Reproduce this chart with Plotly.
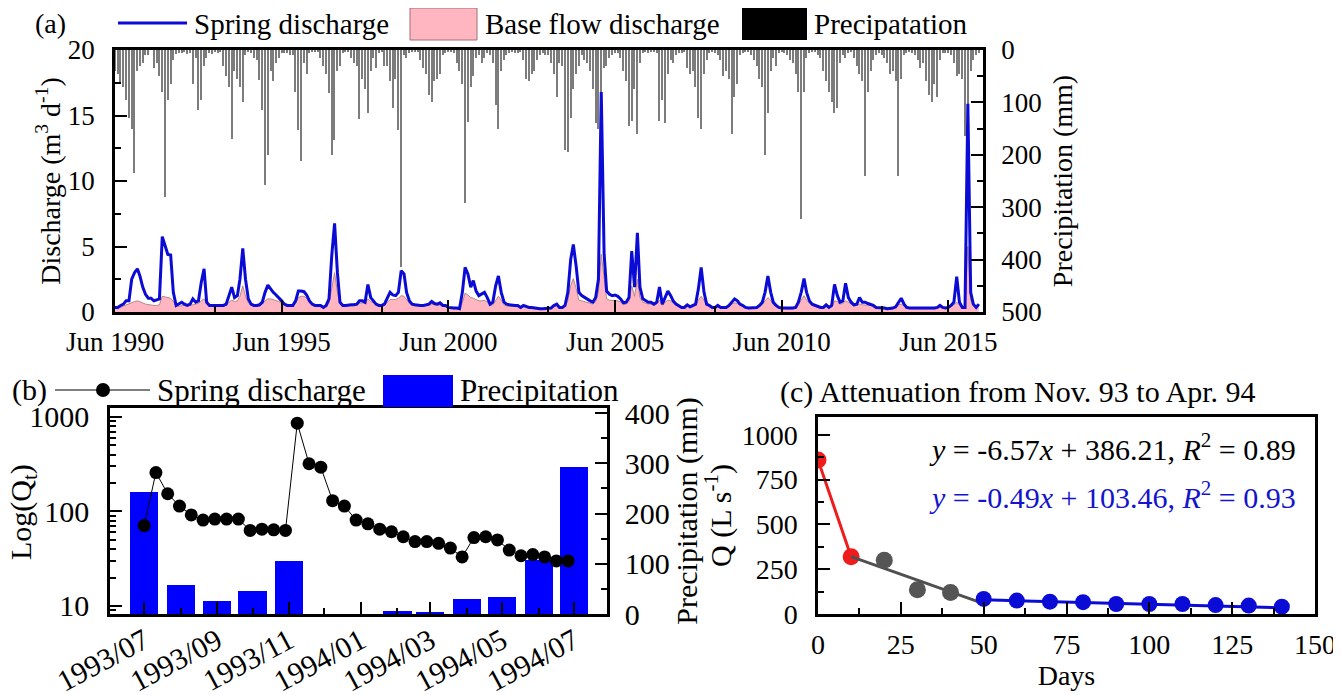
import plotly.graph_objects as go
import pandas as pd

# The page shows the figure with the browser's 8 px body margin, so the figure is
# 8 px smaller than the window and all layout positions are offset by that margin.
PAGE_W, PAGE_H, OFF = 1341, 695, 8
W, H = PAGE_W - OFF, PAGE_H - OFF
FONT = "Liberation Serif, Times New Roman, serif"


def px(x):
    return (x - OFF) / W


def py(y):
    return 1 - (y - OFF) / H


# ---------------- Panel (a): monthly series, Jun 1990 -> May 2016 ----------------
start_a = "1990-06-01"
discharge_a = [
    0.35, 0.35, 0.5, 0.6, 0.85, 0.85, 2.5, 3.0, 3.3, 2.75, 1.9, 1.35,
    1.05, 1.05, 0.85, 0.95, 1.0, 5.75, 5.0, 4.4, 4.35, 1.5, 0.5, 0.6,
    0.75, 0.6, 0.5, 0.6, 1.0, 0.75, 0.85, 2.25, 3.3, 0.75, 0.5, 0.5,
    0.5, 0.5, 0.55, 0.5, 0.6, 1.25, 1.9, 1.1, 1.25, 2.5, 4.85, 2.5,
    1.0, 0.6, 0.5, 0.5, 0.55, 0.75, 1.5, 2.05, 1.75, 1.5, 1.3, 1.1,
    0.85, 0.6, 0.5, 0.5, 0.5, 0.85, 1.6, 1.6, 1.55, 1.3, 0.85, 0.6,
    0.5, 0.5, 0.5, 0.35, 0.5, 1.0, 4.3, 6.77, 3.0, 0.75, 0.5, 0.5,
    0.55, 0.55, 0.55, 0.6, 0.85, 0.85, 0.75, 2.1, 1.1, 0.85, 0.6, 0.5,
    0.5, 0.6, 1.1, 1.5, 1.3, 1.25, 1.5, 3.15, 2.9, 1.5, 0.85, 0.6,
    0.55, 0.5, 0.5, 0.5, 0.55, 0.6, 0.8, 0.65, 0.6, 0.7, 0.5, 0.5,
    0.35, 0.3, 0.3, 0.3, 0.25, 1.5, 3.4, 2.9, 1.9, 2.4, 1.6, 1.25,
    1.35, 1.5, 1.1, 0.6, 0.75, 2.0, 2.75, 1.5, 0.75, 0.6, 0.55, 0.5,
    0.5, 0.5, 0.35, 0.5, 0.4, 0.35, 0.35, 0.3, 0.3, 0.25, 0.25, 0.25,
    0.25, 0.3, 0.5, 0.6, 0.35, 0.35, 0.5, 1.5, 4.0, 5.15, 3.5, 1.5,
    1.25, 1.1, 1.0, 0.85, 0.75, 1.1, 2.5, 16.8, 4.5, 1.6, 1.35, 1.25,
    1.3, 1.2, 1.0, 0.7, 0.75, 1.1, 4.65, 1.9, 6.05, 1.9, 1.0, 0.85,
    0.75, 0.75, 0.6, 0.75, 1.9, 0.6, 1.1, 1.6, 1.25, 0.85, 0.6, 0.5,
    0.35, 0.35, 0.55, 0.4, 0.5, 0.6, 1.75, 3.4, 1.5, 0.6, 0.5, 0.35,
    0.35, 0.5, 0.35, 0.35, 0.35, 0.5, 0.75, 1.0, 0.85, 0.6, 0.5, 0.35,
    0.3, 0.3, 0.3, 0.35, 0.5, 0.75, 1.5, 2.75, 1.5, 0.75, 0.5, 0.35,
    0.3, 0.3, 0.25, 0.25, 0.3, 0.35, 0.75, 1.5, 2.55, 1.5, 0.85, 0.6,
    0.5, 0.4, 0.35, 0.35, 0.55, 0.35, 0.5, 2.1, 1.25, 0.75, 0.85, 2.2,
    1.1, 0.75, 0.55, 0.6, 1.1, 0.75, 0.75, 0.65, 0.6, 0.5, 0.35, 0.35,
    0.3, 0.3, 0.25, 0.25, 0.3, 0.4, 0.75, 1.05, 0.6, 0.35, 0.3, 0.3,
    0.25, 0.25, 0.25, 0.25, 0.25, 0.25, 0.25, 0.3, 0.35, 0.5, 0.35, 0.3,
    0.35, 0.5, 0.75, 2.7, 0.75, 0.35, 0.35, 15.9, 1.5, 0.6, 0.35, 0.6,
]
baseflow_a = [
    0.3, 0.3, 0.35, 0.45, 0.55, 0.6, 0.75, 0.8, 0.85, 0.8, 0.7, 0.6,
    0.55, 0.5, 0.5, 0.5, 0.55, 1.2, 1.15, 1.1, 1.05, 0.8, 0.45, 0.45,
    0.5, 0.5, 0.45, 0.5, 0.6, 0.6, 0.65, 0.85, 1.0, 0.6, 0.45, 0.45,
    0.45, 0.45, 0.45, 0.45, 0.5, 0.75, 0.9, 0.8, 0.85, 1.2, 2.0, 1.2,
    0.7, 0.5, 0.45, 0.45, 0.45, 0.6, 0.85, 1.0, 1.0, 0.95, 0.9, 0.8,
    0.65, 0.5, 0.45, 0.45, 0.45, 0.65, 1.1, 1.2, 1.2, 1.05, 0.7, 0.5,
    0.45, 0.45, 0.45, 0.3, 0.45, 0.7, 1.8, 3.0, 1.5, 0.6, 0.45, 0.45,
    0.45, 0.45, 0.45, 0.5, 0.65, 0.7, 0.65, 1.0, 0.8, 0.7, 0.5, 0.45,
    0.45, 0.5, 0.75, 0.95, 0.95, 0.95, 1.05, 1.25, 1.2, 0.9, 0.65, 0.5,
    0.45, 0.45, 0.45, 0.45, 0.45, 0.5, 0.6, 0.55, 0.5, 0.55, 0.45, 0.45,
    0.3, 0.25, 0.25, 0.25, 0.2, 0.7, 1.45, 1.3, 1.1, 1.05, 0.95, 0.85,
    0.85, 0.9, 0.75, 0.5, 0.55, 0.9, 1.2, 0.9, 0.55, 0.45, 0.45, 0.4,
    0.4, 0.4, 0.3, 0.4, 0.35, 0.3, 0.3, 0.25, 0.25, 0.2, 0.2, 0.2,
    0.2, 0.25, 0.4, 0.45, 0.3, 0.3, 0.4, 0.9, 2.0, 2.55, 1.8, 0.9,
    0.85, 0.8, 0.75, 0.7, 0.6, 0.8, 1.5, 4.4, 2.5, 1.0, 0.9, 0.9,
    0.9, 0.85, 0.75, 0.55, 0.6, 0.8, 2.0, 1.2, 2.5, 1.1, 0.75, 0.65,
    0.6, 0.6, 0.5, 0.6, 0.9, 0.5, 0.75, 0.9, 0.85, 0.65, 0.5, 0.4,
    0.3, 0.3, 0.45, 0.35, 0.4, 0.5, 0.9, 1.2, 0.9, 0.5, 0.4, 0.3,
    0.3, 0.4, 0.3, 0.3, 0.3, 0.4, 0.6, 0.7, 0.65, 0.5, 0.4, 0.3,
    0.25, 0.25, 0.25, 0.3, 0.4, 0.55, 0.85, 1.1, 0.9, 0.55, 0.4, 0.3,
    0.25, 0.25, 0.2, 0.2, 0.25, 0.3, 0.55, 0.9, 1.25, 0.9, 0.65, 0.5,
    0.4, 0.35, 0.3, 0.3, 0.45, 0.3, 0.4, 0.85, 0.8, 0.6, 0.65, 0.85,
    0.75, 0.6, 0.45, 0.5, 0.6, 0.55, 0.55, 0.5, 0.5, 0.4, 0.3, 0.3,
    0.25, 0.25, 0.2, 0.2, 0.25, 0.3, 0.55, 0.6, 0.45, 0.3, 0.25, 0.25,
    0.2, 0.2, 0.2, 0.2, 0.2, 0.2, 0.2, 0.25, 0.3, 0.4, 0.3, 0.25,
    0.3, 0.4, 0.55, 0.75, 0.5, 0.3, 0.3, 5.0, 0.9, 0.45, 0.3, 0.45,
]
precip_a = [
    40, 45, 65, 70, 95, 130, 150, 235, 40, 30, 25, 10,
    10, 0, 35, 25, 50, 80, 280, 95, 65, 20, 8, 5,
    5, 3, 8, 5, 65, 15, 115, 96, 30, 15, 5, 8,
    3, 5, 2, 30, 50, 70, 170, 40, 55, 70, 100, 10,
    3, 5, 15, 20, 58, 115, 257, 201, 40, 60, 25, 15,
    5, 5, 5, 10, 10, 80, 153, 212, 25, 45, 5, 3,
    3, 3, 15, 30, 45, 83, 201, 171, 40, 30, 5, 3,
    3, 15, 25, 30, 131, 55, 75, 120, 40, 15, 35, 5,
    3, 30, 30, 60, 110, 55, 153, 415, 10, 15, 5, 3,
    3, 3, 20, 35, 45, 85, 100, 60, 55, 45, 10, 5,
    3, 2, 5, 25, 40, 65, 292, 137, 70, 50, 15, 10,
    25, 15, 5, 10, 25, 105, 150, 40, 20, 10, 5, 3,
    5, 5, 3, 20, 55, 60, 45, 40, 20, 10, 5, 10,
    10, 25, 45, 90, 25, 30, 190, 195, 130, 75, 45, 30,
    10, 20, 25, 40, 75, 140, 150, 90, 35, 30, 15, 10,
    5, 5, 15, 40, 60, 145, 135, 75, 160, 25, 5, 3,
    5, 3, 3, 5, 135, 95, 140, 45, 20, 25, 10, 5,
    5, 3, 35, 45, 40, 70, 130, 150, 45, 20, 5, 3,
    5, 10, 20, 50, 40, 55, 160, 90, 65, 10, 5, 3,
    3, 10, 20, 30, 55, 70, 200, 120, 40, 15, 30, 5,
    3, 5, 10, 20, 25, 45, 80, 322, 80, 15, 5, 3,
    3, 10, 15, 40, 60, 80, 100, 120, 110, 25, 10, 15,
    5, 3, 15, 30, 45, 60, 240, 80, 40, 20, 10, 5,
    10, 15, 25, 45, 40, 60, 240, 55, 10, 5, 3, 5,
    10, 20, 35, 25, 60, 85, 100, 65, 90, 20, 5, 5,
    5, 10, 25, 50, 45, 55, 165, 155, 40, 20, 10, 5,
]
dates_a = pd.date_range(start_a, periods=len(discharge_a), freq="MS")

# ---------------- Panel (b): Jul 1993 -> Jul 1994 ----------------
months_b = ["1993/07", "1993/08", "1993/09", "1993/10", "1993/11", "1993/12", "1994/01",
            "1994/02", "1994/03", "1994/04", "1994/05", "1994/06", "1994/07"]
precip_b = [243, 57, 25, 46, 105, 0, 0, 6, 4, 29, 34, 108, 292]
discharge_b = [71, 258, 154, 114, 92, 81, 83, 83, 83, 63, 65, 64, 63,
               860, 320, 294, 130, 114, 81, 74, 65, 61, 54, 48, 48, 46, 41, 33,
               53, 54, 50, 39, 34, 35, 33, 30, 30]
month_dates_b = pd.to_datetime([m.replace("/", "-") + "-01" for m in months_b])
dates_b = pd.date_range("1993-07-01", periods=len(discharge_b), freq="10D")

# ---------------- Panel (c): attenuation Nov 93 -> Apr 94 ----------------
days_c = [0, 10, 20, 30, 40, 50, 60, 70, 80, 90, 100, 110, 120, 130, 140]
q_c = [860, 320, 300, 135, 120, 84, 75, 69, 66, 56, 56, 56, 50, 47, 41]
fit1 = dict(slope=-6.57, intercept=386.21, x=[10, 50])
fit2 = dict(slope=-0.49, intercept=103.46, x=[50, 140])

BLUE = "#0b0bd6"
PINK = "#ffb6c1"

fig = go.Figure()

# (a) precipitation bars hanging from top (base axis y, right side, reversed)
fig.add_trace(go.Bar(x=dates_a, y=precip_a, xaxis="x", yaxis="y",
                     marker=dict(color="#7c7c7c", line=dict(width=0)),
                     width=14 * 24 * 3600 * 1000, name="Precipatation"))
# (a) base flow and discharge (overlay axis y2, left side)
fig.add_trace(go.Scatter(x=dates_a, y=baseflow_a, xaxis="x", yaxis="y2", mode="lines",
                         fill="tozeroy", fillcolor=PINK,
                         line=dict(color="#b88686", width=1), name="Base flow discharge"))
fig.add_trace(go.Scatter(x=dates_a, y=discharge_a, xaxis="x", yaxis="y2", mode="lines",
                         line=dict(color=BLUE, width=3), name="Spring discharge"))

# (b) precipitation bars + discharge points
fig.add_trace(go.Bar(x=month_dates_b, y=precip_b, xaxis="x2", yaxis="y3",
                     marker=dict(color="#0000ff", line=dict(width=0)),
                     width=24 * 24 * 3600 * 1000, name="Precipitation"))
fig.add_trace(go.Scatter(x=dates_b, y=discharge_b, xaxis="x2", yaxis="y4", mode="lines+markers",
                         line=dict(color="black", width=1),
                         marker=dict(color="black", size=13), name="Spring discharge"))

# (c) attenuation
fig.add_trace(go.Scatter(x=days_c[0:2], y=q_c[0:2], xaxis="x3", yaxis="y5", mode="lines+markers",
                         line=dict(color="#ee1c1c", width=3), marker=dict(color="#ee1c1c", size=17)))
fig.add_trace(go.Scatter(x=fit1["x"], y=[fit1["slope"] * v + fit1["intercept"] for v in fit1["x"]],
                         xaxis="x3", yaxis="y5", mode="lines",
                         line=dict(color="#505050", width=3)))
fig.add_trace(go.Scatter(x=days_c[2:5], y=q_c[2:5], xaxis="x3", yaxis="y5", mode="markers",
                         marker=dict(color="#555555", size=17)))
fig.add_trace(go.Scatter(x=fit2["x"], y=[fit2["slope"] * v + fit2["intercept"] for v in fit2["x"]],
                         xaxis="x3", yaxis="y5", mode="lines",
                         line=dict(color=BLUE, width=3)))
fig.add_trace(go.Scatter(x=days_c[5:], y=q_c[5:], xaxis="x3", yaxis="y5", mode="markers",
                         marker=dict(color=BLUE, size=16)))

axis_common = dict(showline=True, linecolor="black", linewidth=2.5, ticks="inside",
                   ticklen=12, tickwidth=2, tickcolor="black", showgrid=False, zeroline=False,
                   color="black", automargin=False)


def minor(dtick, tick0=None):
    d = dict(ticks="inside", ticklen=6, tickwidth=2, tickcolor="black", dtick=dtick, showgrid=False)
    if tick0 is not None:
        d["tick0"] = tick0
    return d


layout = dict(
    width=W, height=H, margin=dict(l=0, r=0, t=0, b=0, autoexpand=False),
    paper_bgcolor="white", plot_bgcolor="white", showlegend=False, bargap=0,
    font=dict(family=FONT, color="black"),
    # ---- panel (a)
    xaxis=dict(axis_common, domain=[px(115), px(983)], anchor="y", type="date",
               range=["1990-06-01", "2016-06-15"], tick0="1990-06-01", dtick="M60",
               tickformat="%b %Y", mirror=True, tickfont=dict(size=27), ticklabelstandoff=4,
               minor=minor("M60", "1993-06-01")),
    yaxis=dict(axis_common, domain=[py(312), py(50)], anchor="x", side="right",
               range=[500, 0], dtick=100, tickfont=dict(size=27), ticklabelstandoff=10,
               minor=minor(50),
               title=dict(text="Precipitation (mm)", font=dict(size=28), standoff=12)),
    yaxis2=dict(axis_common, overlaying="y", anchor="x", side="left", range=[0, 20], dtick=5,
                tickfont=dict(size=27), ticklabelstandoff=12, minor=minor(2.5),
                title=dict(text="Discharge (m<sup>3</sup> d<sup>-1</sup>)", font=dict(size=28), standoff=0)),
    # ---- panel (b)
    xaxis2=dict(axis_common, domain=[px(110), px(607)], anchor="y3", type="date",
                range=["1993-06-02", "1994-07-29"], tick0="1993-07-01", dtick="M2",
                tickformat="%Y/%m", tickangle=-28, mirror=True, tickfont=dict(size=30),
                ticklabelstandoff=-5, minor=minor("M1")),
    yaxis3=dict(axis_common, domain=[py(614), py(408)], anchor="x2", side="right",
                range=[0, 410], dtick=100, tickfont=dict(size=30), ticklabelstandoff=9,
                minor=minor(50),
                title=dict(text="Precipitation (mm)", font=dict(size=30), standoff=0)),
    yaxis4=dict(axis_common, overlaying="y3", anchor="x2", side="left", type="log",
                range=[0.915, 3.095], dtick=1, exponentformat="none",
                tickfont=dict(size=30), ticklabelstandoff=12,
                minor=dict(ticks="inside", ticklen=6, tickwidth=1.5, tickcolor="black", showgrid=False)),
    # ---- panel (c)
    xaxis3=dict(axis_common, domain=[px(818), px(1315)], anchor="y5", range=[0, 150], dtick=25,
                mirror=True, tickfont=dict(size=28), ticklabelstandoff=4, minor=minor(12.5),
                title=dict(text="Days", font=dict(size=28), standoff=2)),
    yaxis5=dict(axis_common, domain=[py(614), py(417)], anchor="x3", range=[0, 1100], dtick=250,
                mirror=True, tickfont=dict(size=28), ticklabelstandoff=12, minor=minor(125),
                title=dict(text="Q (L s<sup>-1</sup>)", font=dict(size=30), standoff=2)),
)

annotations = []


def text(x, y, s, size, color="black", xanchor="left", angle=0):
    annotations.append(dict(x=px(x), y=py(y), xref="paper", yref="paper", text=s, showarrow=False,
                            xanchor=xanchor, yanchor="middle", textangle=angle,
                            font=dict(size=size, color=color, family=FONT)))


shapes = []


def rect(x0, y0, x1, y1, fill, line="rgba(0,0,0,0)", lw=0):
    shapes.append(dict(type="rect", xref="paper", yref="paper", x0=px(x0), x1=px(x1),
                       y0=py(y1), y1=py(y0), fillcolor=fill, line=dict(color=line, width=lw)))


def hline(x0, x1, y, color, width):
    shapes.append(dict(type="line", xref="paper", yref="paper", x0=px(x0), x1=px(x1),
                       y0=py(y), y1=py(y), line=dict(color=color, width=width)))


# legend (a)
text(33, 24, "(a)", 28)
hline(118, 187, 23, BLUE, 3)
text(192, 24, "Spring discharge", 29)
rect(410, 8, 477, 40, PINK, "#a07070", 1)
text(483, 24, "Base flow discharge", 29)
rect(742, 8, 807, 40, "black")
text(812, 24, "Precipatation", 29)

# legend (b)
text(10, 390, "(b)", 30)
hline(55, 150, 390, "black", 1)
shapes.append(dict(type="circle", xref="paper", yref="paper", xsizemode="pixel", ysizemode="pixel",
                   xanchor=px(103), yanchor=py(390), x0=-7, x1=7, y0=-7, y1=7,
                   fillcolor="black", line=dict(color="black", width=0)))
text(155, 390, "Spring discharge", 31)
rect(383, 375, 453, 407, "#0000ff")
text(458, 390, "Precipitation", 31)
# left title of (b) sits under the tick labels, so it is placed as text
text(23, 512, "Log(Q<sub>t</sub>)", 30, xanchor="center", angle=-90)

# panel (c) heading and fit equations
text(1018, 392, "(c) Attenuation from Nov. 93 to Apr. 94", 30, xanchor="center")
text(1298, 447, "<i>y</i> = -6.57<i>x</i> + 386.21, <i>R</i><sup>2</sup> = 0.89", 30, xanchor="right")
text(1298, 495, "<i>y</i> = -0.49<i>x</i> + 103.46, <i>R</i><sup>2</sup> = 0.93", 30, color="#1414cc",
     xanchor="right")

layout["annotations"] = annotations
layout["shapes"] = shapes
fig.update_layout(**layout)

fig.write_html("out.html")
